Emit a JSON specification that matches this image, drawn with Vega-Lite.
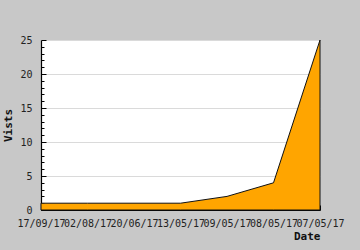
{
  "$schema": "https://vega.github.io/schema/vega-lite/v6.json",
  "width": 279,
  "height": 170,
  "autosize": "none",
  "padding": {"left": 41, "top": 40, "right": 40, "bottom": 40},
  "background": "#c8c8c8",
  "config": {
    "view": {"fill": "white", "stroke": null},
    "axis": {"labelFont": "DejaVu Sans Mono", "titleFont": "DejaVu Sans Mono", "labelColor": "#222", "titleColor": "#111"}
  },
  "data": {"values": [
    {"date": "17/09/17", "visits": 1},
    {"date": "02/08/17", "visits": 1},
    {"date": "20/06/17", "visits": 1},
    {"date": "13/05/17", "visits": 1},
    {"date": "09/05/17", "visits": 2},
    {"date": "08/05/17", "visits": 4},
    {"date": "07/05/17", "visits": 25}
  ]},
  "mark": {"type": "area", "color": "#ffa500", "stroke": "#111", "strokeWidth": 1, "opacity": 1},
  "encoding": {
    "x": {
      "field": "date", "type": "nominal", "sort": null,
      "scale": {"type": "point", "padding": 0},
      "axis": {
        "title": "Date", "titleAnchor": "end", "titleFontSize": 11, "titleFontWeight": "bold",
        "titlePadding": 2,
        "labelAngle": 0, "labelFontSize": 10, "labelPadding": 13, "labelOverlap": false,
        "tickSize": -5, "tickColor": "#000", "domainColor": "#000", "domainWidth": 1.2, "grid": false
      }
    },
    "y": {
      "field": "visits", "type": "quantitative",
      "scale": {"domain": [0, 25], "nice": false},
      "axis": {
        "title": "Vists", "titleFontSize": 11, "titleFontWeight": "bold", "titlePadding": 6,
        "values": [0,1,2,3,4,5,6,7,8,9,10,11,12,13,14,15,16,17,18,19,20,21,22,23,24,25],
        "labelExpr": "datum.value % 5 == 0 ? datum.label : ''",
        "labelFontSize": 10, "labelPadding": 14,
        "tickSize": {"expr": "datum.value % 5 == 0 ? -5 : -3"},
        "tickColor": "#000", "domainColor": "#000", "domainWidth": 1.2,
        "grid": true, "gridColor": "#dadada",
        "gridOpacity": {"expr": "datum.value % 5 == 0 ? 1 : 0"}
      }
    }
  }
}
